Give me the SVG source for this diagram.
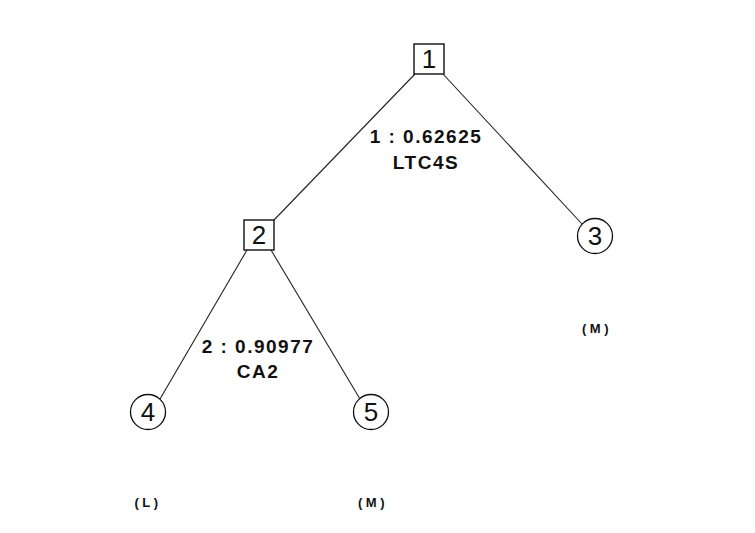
<svg xmlns="http://www.w3.org/2000/svg" width="755" height="533" viewBox="0 0 755 533">
<style>
.edge{stroke:#222;stroke-width:1.1;fill:none}
.box{fill:#fff;stroke:#111;stroke-width:1.4}
.circ{fill:#fff;stroke:#111;stroke-width:1.3}
.num{font-family:"Liberation Sans",Arial,sans-serif;font-size:26px;fill:#111;text-anchor:middle}
.lbl{font-family:"Liberation Sans",Arial,sans-serif;font-size:19px;font-weight:bold;fill:#111;text-anchor:middle;letter-spacing:1.5px}
.cls{font-family:"Liberation Sans",Arial,sans-serif;font-size:13px;font-weight:bold;fill:#111;text-anchor:middle;letter-spacing:3.5px}
</style>
<rect width="755" height="533" fill="#fff"/>
<g id="connectors">
<line class="edge" x1="415" y1="74" x2="274" y2="220"/>
<line class="edge" x1="443" y1="74" x2="582" y2="224"/>
<line class="edge" x1="247" y1="250" x2="160" y2="399"/>
<line class="edge" x1="271" y1="250" x2="360" y2="399"/>
</g>
<g id="node1">
<rect class="box" x="414" y="44" width="30" height="30"/>
<text class="num" x="429" y="68">1</text>
</g>
<g id="node2">
<rect class="box" x="244" y="220" width="30" height="30"/>
<text class="num" x="259" y="244">2</text>
</g>
<g id="node3">
<circle class="circ" cx="595" cy="236" r="17.5"/>
<text class="num" x="595" y="245">3</text>
<text class="cls" x="597" y="333">(M)</text>
</g>
<g id="node4">
<circle class="circ" cx="148" cy="412" r="17.5"/>
<text class="num" x="148" y="421">4</text>
<text class="cls" x="148" y="507">(L)</text>
</g>
<g id="node5">
<circle class="circ" cx="371" cy="412" r="17.5"/>
<text class="num" x="371" y="421">5</text>
<text class="cls" x="373" y="507">(M)</text>
</g>
<g id="labels">
<text class="lbl" x="426" y="143">1 : 0.62625</text>
<text class="lbl" x="426" y="169">LTC4S</text>
<text class="lbl" x="258" y="353">2 : 0.90977</text>
<text class="lbl" x="258" y="378">CA2</text>
</g>
</svg>
